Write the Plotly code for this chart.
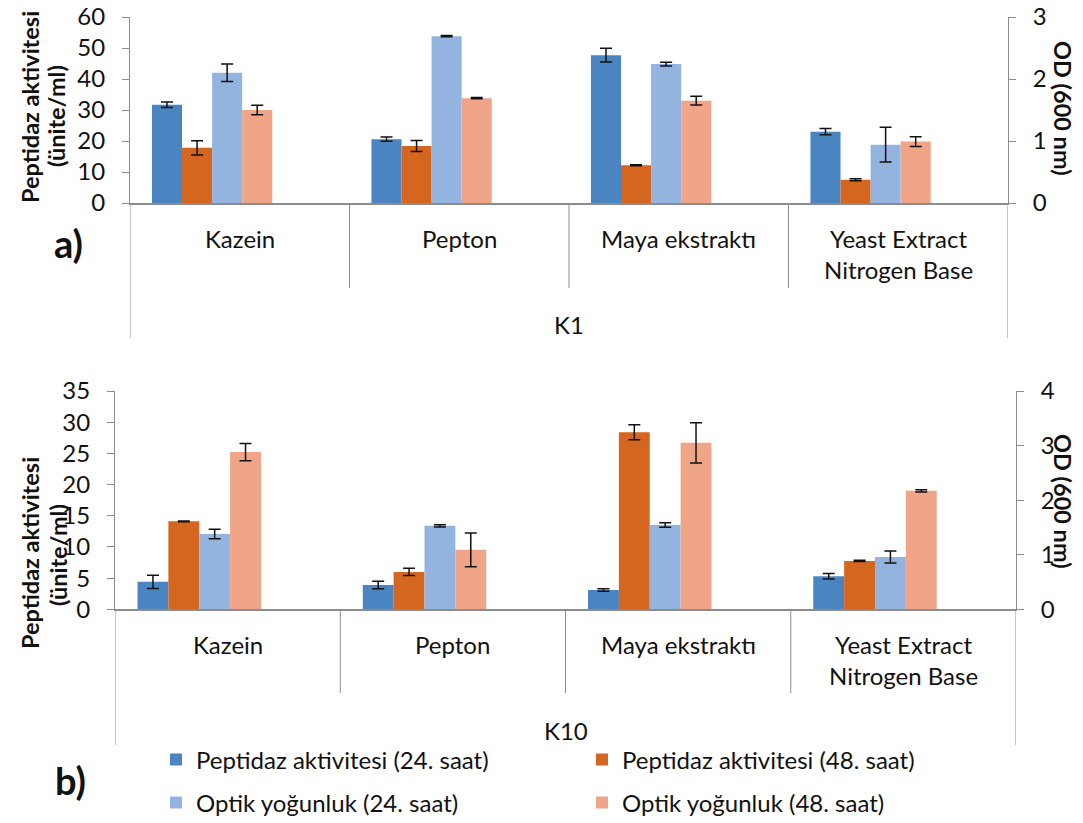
import plotly.graph_objects as go

W, H = 1083, 823

categories = ["Kazein", "Pepton", "Maya ekstraktı", "Yeast Extract<br>Nitrogen Base"]
series_names = [
    "Peptidaz aktivitesi (24. saat)",
    "Peptidaz aktivitesi (48. saat)",
    "Optik yoğunluk (24. saat)",
    "Optik yoğunluk (48. saat)",
]
colors = ["#4a84c1", "#d4661f", "#94b4e0", "#f0a588"]

# K1 strain (panel a)
k1_pep24 = [31.7, 20.6, 47.7, 23.0]
k1_pep24_err = [0.9, 0.7, 2.2, 1.0]
k1_pep48 = [17.8, 18.4, 12.2, 7.5]
k1_pep48_err = [2.3, 1.8, 0.15, 0.3]
k1_od24 = [2.10, 2.69, 2.24, 0.94]
k1_od24_err = [0.14, 0.01, 0.03, 0.28]
k1_od48 = [1.50, 1.69, 1.65, 0.99]
k1_od48_err = [0.075, 0.01, 0.07, 0.08]

# K10 strain (panel b)
k10_pep24 = [4.4, 3.9, 3.1, 5.3]
k10_pep24_err = [1.05, 0.6, 0.2, 0.45]
k10_pep48 = [14.1, 6.0, 28.4, 7.75]
k10_pep48_err = [0.05, 0.6, 1.2, 0.1]
k10_od24 = [1.38, 1.53, 1.545, 0.96]
k10_od24_err = [0.085, 0.02, 0.043, 0.11]
k10_od48 = [2.88, 1.09, 3.05, 2.17]
k10_od48_err = [0.16, 0.31, 0.37, 0.02]

FONT = "Lato"
AX_COLOR = "#8c8c8c"
TXT = "#111111"
FS = 24

bar_w = 0.137
offsets = [-0.40, -0.263, -0.126, 0.011]

fig = go.Figure()


def add_panel(vals, errs, xa, ya_left, ya_right, show):
    for i, (v, e) in enumerate(zip(vals, errs)):
        fig.add_trace(go.Bar(
            x=categories, y=v,
            xaxis=xa, yaxis=ya_left if i < 2 else ya_right,
            width=bar_w, offset=offsets[i],
            marker=dict(color=colors[i], line=dict(width=0)),
            error_y=dict(type="data", array=e, visible=True,
                         color="#111111", thickness=1.5, width=6),
            name=series_names[i],
            showlegend=show,
            legend="legend" if i in (0, 1) else "legend2",
        ))


add_panel([k1_pep24, k1_pep48, k1_od24, k1_od48],
          [k1_pep24_err, k1_pep48_err, k1_od24_err, k1_od48_err],
          "x", "y", "y2", True)
add_panel([k10_pep24, k10_pep48, k10_od24, k10_od48],
          [k10_pep24_err, k10_pep48_err, k10_od24_err, k10_od48_err],
          "x2", "y3", "y4", False)

# panel geometry in pixels
top = dict(x0=130, x1=1008, y0=17, y1=203)
bot = dict(x0=115, x1=1016, y0=391, y1=609.3)


def fx(px):
    return px / W


def fy(py):
    return 1 - py / H


tickfont = dict(family=FONT, size=FS, color=TXT)

yax_common = dict(showgrid=False, zeroline=False, showline=True, linecolor=AX_COLOR,
                  linewidth=1, ticks="outside", ticklen=7, tickcolor=AX_COLOR,
                  tickfont=tickfont, ticklabelstandoff=12, automargin=False)
xax_common = dict(type="category", range=[-0.5, 3.5], showgrid=False, zeroline=False,
                  showline=True, linecolor=AX_COLOR, linewidth=1.5,
                  showticklabels=False, ticks="", automargin=False)

legend_common = dict(orientation="h", xanchor="left", yanchor="middle",
                     entrywidth=381, entrywidthmode="pixels",
                     font=dict(family=FONT, size=FS, color=TXT),
                     bgcolor="rgba(0,0,0,0)")

fig.update_layout(
    width=W, height=H,
    margin=dict(l=0, r=0, t=0, b=0, autoexpand=False),
    paper_bgcolor="white", plot_bgcolor="white",
    barmode="overlay",
    font=dict(family=FONT, color=TXT),
    xaxis=dict(domain=[fx(top["x0"]), fx(top["x1"])], anchor="y", **xax_common),
    yaxis=dict(domain=[fy(top["y1"]), fy(top["y0"])], anchor="x",
               range=[0, 60], dtick=10, **yax_common),
    yaxis2=dict(overlaying="y", side="right", anchor="x",
                range=[0, 3], dtick=1, **yax_common),
    xaxis2=dict(domain=[fx(bot["x0"]), fx(bot["x1"])], anchor="y3", **xax_common),
    yaxis3=dict(domain=[fy(bot["y1"]), fy(bot["y0"])], anchor="x2",
                range=[0, 35], dtick=5, **yax_common),
    yaxis4=dict(overlaying="y3", side="right", anchor="x2",
                range=[0, 4], dtick=1, **yax_common),
    legend=dict(x=fx(156), y=fy(760), **legend_common),
    legend2=dict(x=fx(156), y=fy(803), **legend_common),
)

shapes = []
annotations = []


def category_frame(xref, y_axis_px, div_px, outer_px):
    for b in (0.5, 1.5, 2.5):
        shapes.append(dict(type="line", xref=xref, yref="paper", x0=b, x1=b,
                           y0=fy(y_axis_px), y1=fy(div_px),
                           line=dict(color=AX_COLOR, width=1)))
    for b in (-0.5, 3.5):
        shapes.append(dict(type="line", xref=xref, yref="paper", x0=b, x1=b,
                           y0=fy(y_axis_px), y1=fy(outer_px),
                           line=dict(color=AX_COLOR, width=1)))


category_frame("x", top["y1"], 288, 338)
category_frame("x2", bot["y1"], 693, 745)

catfont = dict(family=FONT, size=FS, color=TXT)
for xref, ytop in (("x", 222), ("x2", 628)):
    for c in categories:
        annotations.append(dict(x=c, xref=xref, y=fy(ytop), yref="paper",
                                text=c, showarrow=False, xanchor="center", yanchor="top",
                                font=catfont))

annotations.append(dict(x=1.5, xref="x", y=fy(324), yref="paper", text="K1",
                        showarrow=False, xanchor="center", yanchor="middle", font=catfont))
annotations.append(dict(x=1.5, xref="x2", y=fy(730), yref="paper", text="K10",
                        showarrow=False, xanchor="center", yanchor="middle", font=catfont))

titlefont = dict(family=FONT, size=23.5, color=TXT, weight="bold")
label_font = dict(family=FONT, size=38, color=TXT, weight="bold")


def paper_text(px, py, text, font, angle=0):
    return dict(x=fx(px), y=fy(py), xref="paper", yref="paper", text=text,
                textangle=angle, showarrow=False, xanchor="center", yanchor="middle",
                font=font)


annotations += [
    paper_text(30, 107, "Peptidaz aktivitesi", titlefont, -90),
    paper_text(56, 116, "(ünite/ml)", titlefont, -90),
    paper_text(1063, 108, "OD (600 nm)", titlefont, 90),
    paper_text(30, 553, "Peptidaz aktivitesi", titlefont, -90),
    paper_text(58, 555, "(ünite/ml)", titlefont, -90),
    paper_text(1063, 501, "OD (600 nm)", titlefont, 90),
    paper_text(68, 243, "a)", label_font),
    paper_text(70, 780, "b)", label_font),
]

fig.update_layout(shapes=shapes, annotations=annotations)

fig.write_html("out.html")
